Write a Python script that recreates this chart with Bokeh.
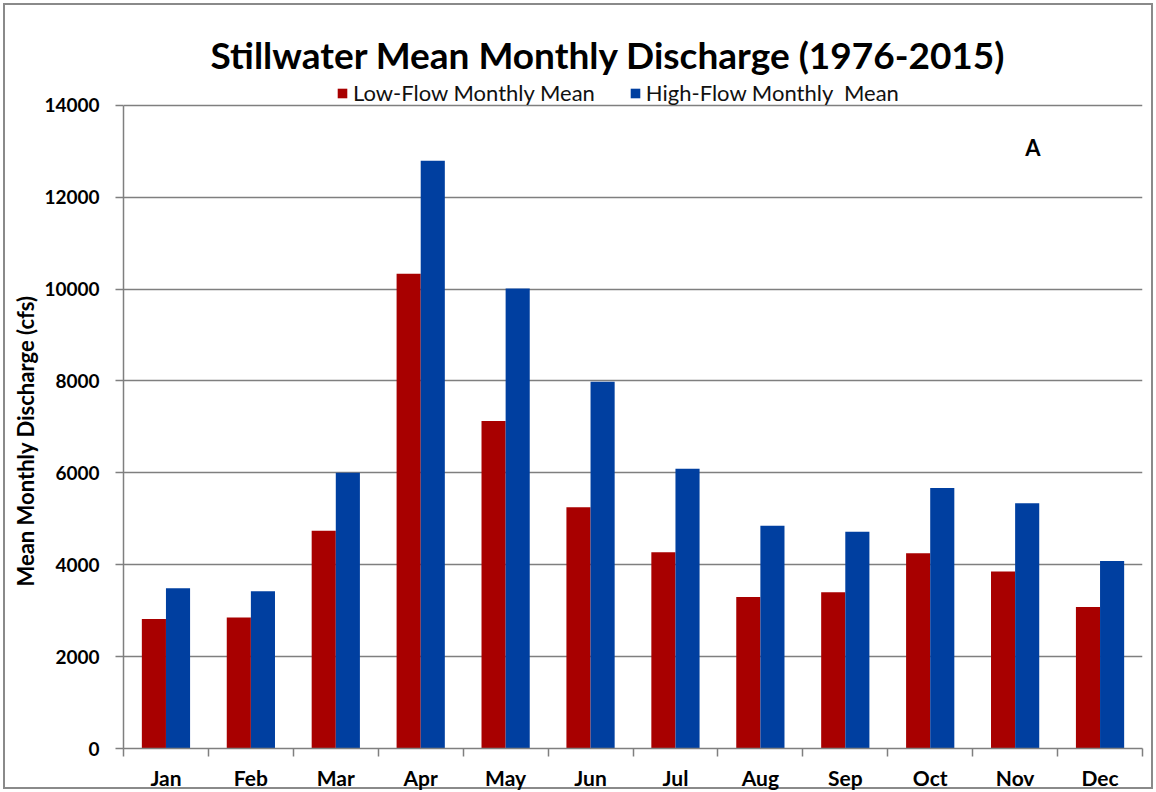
from bokeh.plotting import figure
from bokeh.models import (ColumnDataSource, Range1d, FixedTicker, Label, Legend, LegendItem,
                          InlineStyleSheet, Title)
from bokeh.transform import dodge
from bokeh.embed import file_html
from bokeh.resources import INLINE

months = ["Jan", "Feb", "Mar", "Apr", "May", "Jun", "Jul", "Aug", "Sep", "Oct", "Nov", "Dec"]
low_flow = [2820, 2850, 4740, 10330, 7130, 5250, 4270, 3300, 3400, 4250, 3850, 3080]
high_flow = [3490, 3420, 6000, 12790, 10010, 7980, 6090, 4850, 4720, 5670, 5340, 4080]
y_ticks = [0, 2000, 4000, 6000, 8000, 10000, 12000, 14000]

title_text = "Stillwater Mean Monthly Discharge (1976-2015)"
y_label = "Mean Monthly Discharge (cfs)"
series_names = ["Low-Flow Monthly Mean", "High-Flow Monthly  Mean"]
panel_tag = "A"

RED = "#A80000"
BLUE = "#003FA0"
GRAY = "#7F7F7F"
FONT = "Lato"

centers = [i + 0.5 for i in range(len(months))]
src = ColumnDataSource(dict(x=centers, month=months, low=low_flow, high=high_flow))

p = figure(width=1156, height=792, output_backend="svg", toolbar_location=None,
           x_range=Range1d(0, len(months)), y_range=Range1d(0, 15888),
           min_border_left=123, min_border_right=14, min_border_top=18, min_border_bottom=42)
p.outline_line_color = None
p.border_fill_alpha = 0
p.background_fill_color = "white"
border_css = "{ outline: 2px solid #8a8a8a; outline-offset: -5px; background-color: white; }"
p.stylesheets = [InlineStyleSheet(css=":host " + border_css + "\n.bk-Canvas " + border_css)]

r_low = p.vbar(x=dodge("x", -0.142, range=p.x_range), top="low", width=0.284, source=src,
               fill_color=RED, line_color=None)
r_high = p.vbar(x=dodge("x", 0.142, range=p.x_range), top="high", width=0.284, source=src,
                fill_color=BLUE, line_color=None)

# x axis: labels at centers, ticks at category boundaries
xax = p.xaxis[0]
xax.ticker = FixedTicker(ticks=centers, minor_ticks=list(range(len(months) + 1)))
xax.major_label_overrides = {c: m for c, m in zip(centers, months)}
xax.major_tick_out = 0
xax.major_tick_in = 0
xax.minor_tick_out = 8
xax.minor_tick_in = 0
xax.minor_tick_line_color = GRAY
xax.minor_tick_line_width = 1.5
xax.axis_line_color = GRAY
xax.axis_line_width = 1.5
xax.major_label_standoff = 8
xax.major_label_text_font = FONT
xax.major_label_text_font_style = "bold"
xax.major_label_text_font_size = "21px"
xax.major_label_text_color = "black"

yax = p.yaxis[0]
yax.ticker = FixedTicker(ticks=y_ticks)
yax.bounds = (0, 14000)
yax.major_tick_out = 8
yax.major_tick_in = 0
yax.minor_tick_out = 0
yax.minor_tick_in = 0
yax.major_tick_line_color = GRAY
yax.major_tick_line_width = 1.5
yax.axis_line_color = GRAY
yax.axis_line_width = 1.5
yax.major_label_standoff = 16
yax.major_label_text_font = FONT
yax.major_label_text_font_style = "bold"
yax.major_label_text_font_size = "19px"
yax.major_label_text_color = "black"

# y-axis title, placed along the lower part of the left side as in the original
p.add_layout(Title(text=y_label, align="left", offset=162, standoff=6,
                   text_font=FONT, text_font_style="bold", text_font_size="22px",
                   text_color="black"), "left")

p.xgrid.grid_line_color = None
p.ygrid.grid_line_color = GRAY
p.ygrid.grid_line_width = 1.5

legend = Legend(items=[LegendItem(label=series_names[0], renderers=[r_low]),
                       LegendItem(label=series_names[1], renderers=[r_high])],
                orientation="horizontal", location=(213, 642),
                background_fill_alpha=0, border_line_color=None,
                padding=2, margin=0, spacing=34, label_standoff=5,
                glyph_width=12, glyph_height=12,
                label_text_font=FONT, label_text_font_size="22px", label_text_color="#111111")
p.add_layout(legend, "center")

p.add_layout(Label(x=5.71, y=15100, text=title_text, text_align="center", text_baseline="middle",
                   text_font=FONT, text_font_style="bold", text_font_size="37px",
                   text_color="black"))
p.add_layout(Label(x=10.71, y=13070, text=panel_tag, text_align="center", text_baseline="middle",
                   text_font=FONT, text_font_style="bold", text_font_size="22px",
                   text_color="black"))

open("out.html", "w").write(file_html(p, INLINE))
